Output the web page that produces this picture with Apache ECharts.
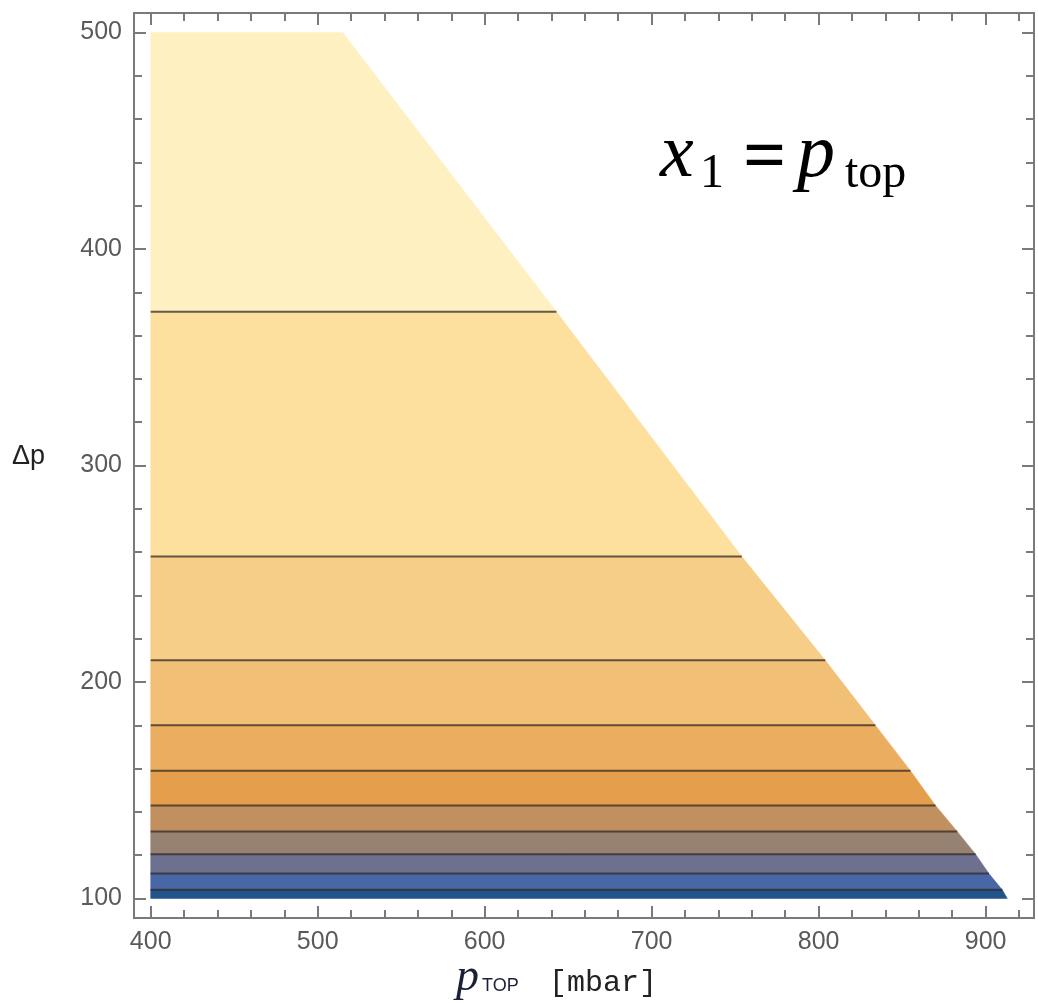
<!DOCTYPE html>
<html>
<head>
<meta charset="utf-8">
<script src="https://cdn.jsdelivr.net/npm/echarts@6/dist/echarts.min.js"></script>
<style>
  html, body { margin: 0; padding: 0; background: #fff; }
  #chart { width: 1038px; height: 1003px; }
</style>
</head>
<body>
<div id="chart"></div>
<script>
'use strict';

// contour levels of Δp (band boundaries), top to bottom
const levels = [500, 371, 258, 210, 180, 159, 143, 131, 120.5, 111.5, 104, 100];
// right end (p_top) of the filled region at each level
const edgeP = [515, 643, 754, 804, 834, 855, 870, 883, 894, 902, 910, 913];
// left end of every band
const pStart = 400;
// fill colour of each band, top to bottom
const bandColors = ['#fef0c1', '#fde09e', '#f7ce88', '#f1bf76', '#ebae61', '#e59e4b',
                    '#c28f5e', '#978272', '#6e7090', '#4867a6', '#22538a'];
// axis ticks
const xMajor = [400, 500, 600, 700, 800, 900];
const xMinor = [420, 440, 460, 480, 520, 540, 560, 580, 620, 640, 660, 680,
                720, 740, 760, 780, 820, 840, 860, 880, 920];
const yMajor = [100, 200, 300, 400, 500];
const yMinor = [120, 140, 160, 180, 220, 240, 260, 280, 320, 340, 360, 380,
                420, 440, 460, 480];

const chart = echarts.init(document.getElementById('chart'));

const bands = [];
for (let i = 0; i < bandColors.length; i++) {
    bands.push([levels[i], levels[i + 1], edgeP[i], edgeP[i + 1], i]);
}
// inner contour lines (not the top and bottom of the region)
const lines = [];
for (let i = 1; i < levels.length - 1; i++) {
    lines.push([levels[i], edgeP[i]]);
}

const axisGray = '#7a7a7a';
const labelStyle = { color: '#5a5a5a', fontFamily: 'Liberation Sans, Arial, sans-serif', fontSize: 25 };

function xAxisDef(pos, ticks, len, labels) {
    return {
        type: 'value', min: 390, max: 929, position: pos,
        axisLine: { show: true, lineStyle: { color: axisGray, width: 2 } },
        axisTick: { show: true, inside: true, length: len, customValues: ticks,
                    lineStyle: { color: axisGray, width: 2 } },
        axisLabel: { show: labels, customValues: xMajor, margin: 12, ...labelStyle },
        splitLine: { show: false }
    };
}
function yAxisDef(pos, ticks, len, labels) {
    return {
        type: 'value', min: 91, max: 509, position: pos,
        axisLine: { show: true, lineStyle: { color: axisGray, width: 2 } },
        axisTick: { show: true, inside: true, length: len, customValues: ticks,
                    lineStyle: { color: axisGray, width: 2 } },
        axisLabel: { show: labels, customValues: yMajor, margin: 12, ...labelStyle },
        splitLine: { show: false }
    };
}

const option = {
    backgroundColor: '#ffffff',
    animation: false,
    grid: { left: 134, top: 13, width: 900, height: 905 },
    xAxis: [
        xAxisDef('bottom', xMajor, 12, true),
        xAxisDef('bottom', xMinor, 8, false),
        xAxisDef('top', xMajor, 12, false),
        xAxisDef('top', xMinor, 8, false)
    ],
    yAxis: [
        yAxisDef('left', yMajor, 12, true),
        yAxisDef('left', yMinor, 8, false),
        yAxisDef('right', yMajor, 12, false),
        yAxisDef('right', yMinor, 8, false)
    ],
    series: [
        {
            type: 'custom',
            xAxisIndex: 0, yAxisIndex: 0,
            data: bands,
            renderItem: function (params, api) {
                const hi = api.value(0), lo = api.value(1);
                const eHi = api.value(2), eLo = api.value(3);
                const idx = api.value(4);
                const pts = [
                    api.coord([pStart, hi]),
                    api.coord([eHi, hi]),
                    api.coord([eLo, lo]),
                    api.coord([pStart, lo])
                ];
                return {
                    type: 'polygon',
                    shape: { points: pts },
                    style: { fill: bandColors[idx], stroke: bandColors[idx], lineWidth: 0.5 }
                };
            },
            z: 2
        },
        {
            type: 'custom',
            xAxisIndex: 0, yAxisIndex: 0,
            data: lines,
            renderItem: function (params, api) {
                const lv = api.value(0), e = api.value(1);
                const a = api.coord([pStart, lv]);
                const b = api.coord([e, lv]);
                return {
                    type: 'line',
                    shape: { x1: a[0], y1: a[1], x2: b[0], y2: b[1] },
                    style: { stroke: 'rgba(50,40,35,0.75)', lineWidth: 2 }
                };
            },
            z: 3
        }
    ],
    graphic: [
        // y axis title
        { type: 'text', left: 12, top: 443,
          style: { text: 'Δp', fill: '#222', font: '27px Liberation Sans, Arial, sans-serif' } },
        // x axis title
        { type: 'text', left: 456, top: 955,
          style: { text: 'p', fill: '#1a1f3a', font: 'italic 46px Liberation Serif, serif' } },
        { type: 'text', left: 482, top: 977,
          style: { text: 'TOP', fill: '#1a1f3a', font: '18px Liberation Sans, Arial, sans-serif' } },
        { type: 'text', left: 549, top: 968,
          style: { text: '[mbar]', fill: '#222', font: '30px Liberation Mono, DejaVu Sans Mono, monospace' } },
        // annotation x1 = p_top
        { type: 'text', left: 660, top: 118,
          style: { text: 'x', fill: '#000', font: 'italic 76px Liberation Serif, serif' } },
        { type: 'text', left: 700, top: 150,
          style: { text: '1', fill: '#000', font: '48px Liberation Serif, serif' } },
        { type: 'text', left: 743, top: 122,
          style: { text: '=', fill: '#000', font: 'bold 76px Liberation Serif, serif' } },
        { type: 'text', left: 797, top: 118,
          style: { text: 'p', fill: '#000', font: 'italic 76px Liberation Serif, serif' } },
        { type: 'text', left: 845, top: 150,
          style: { text: 'top', fill: '#000', font: '48px Liberation Serif, serif' } }
    ]
};

chart.setOption(option);
window.addEventListener('resize', () => chart.resize());
</script>
</body>
</html>
